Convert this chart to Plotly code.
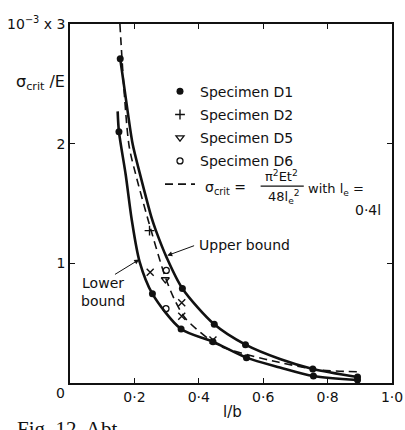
import plotly.graph_objects as go

# ---- data (l/b, sigma_crit/E x 1e-3) ----
upper_x = [0.156, 0.179, 0.195, 0.217, 0.254, 0.266, 0.300, 0.349, 0.448, 0.545, 0.652, 0.754, 0.893]
upper_y = [2.71, 2.27, 1.99, 1.75, 1.375, 1.28, 1.05, 0.79, 0.49, 0.32, 0.20, 0.117, 0.05]

lower_x = [0.148, 0.152, 0.173, 0.192, 0.216, 0.256, 0.345, 0.444, 0.548, 0.652, 0.756, 0.893]
lower_y = [2.27, 2.10, 1.74, 1.36, 1.015, 0.745, 0.451, 0.345, 0.212, 0.13, 0.058, 0.025]

theory_x = [0.155, 0.183, 0.204, 0.2415, 0.294, 0.324, 0.359, 0.435, 0.474, 0.560, 0.649, 0.769, 0.897]
theory_y = [3.00, 1.99, 1.744, 1.373, 0.90, 0.70, 0.538, 0.359, 0.299, 0.23, 0.173, 0.111, 0.093]

d1_x = [0.156, 0.349, 0.448, 0.545, 0.754, 0.893, 0.152, 0.256, 0.345, 0.444, 0.548, 0.756, 0.893]
d1_y = [2.71, 0.79, 0.49, 0.32, 0.117, 0.05, 2.10, 0.745, 0.451, 0.345, 0.212, 0.058, 0.025]

d2_x = [0.247, 0.249, 0.347, 0.347, 0.444]
d2_y = [1.273, 0.926, 0.670, 0.558, 0.36]

d5_x = [0.296]
d5_y = [0.865]

d6_x = [0.299, 0.298]
d6_y = [0.941, 0.621]

x_ticks = [0.2, 0.4, 0.6, 0.8, 1.0]
x_ticktext = ["0·2", "0·4", "0·6", "0·8", "1·0"]
y_ticks = [1, 2, 3]
y_ticktext = ["1", "2", "10<sup>−3</sup> x 3"]
Y_MAX = 3.0

FONT = "DejaVu Sans"
BLACK = "#111111"

fig = go.Figure()

# curves
fig.add_trace(go.Scatter(x=upper_x, y=upper_y, mode="lines", showlegend=False,
                         line=dict(color=BLACK, width=2.6, shape="spline", smoothing=0.8)))
fig.add_trace(go.Scatter(x=lower_x, y=lower_y, mode="lines", showlegend=False,
                         line=dict(color=BLACK, width=2.6, shape="spline", smoothing=0.8)))

# specimens
fig.add_trace(go.Scatter(x=d1_x, y=d1_y, mode="markers", name="Specimen D1",
                         legendgroup="a",
                         marker=dict(symbol="circle", size=7, color=BLACK)))
fig.add_trace(go.Scatter(x=d2_x, y=d2_y, mode="markers", name="Specimen D2",
                         legendgroup="b",
                         marker=dict(symbol=["cross-thin", "x-thin", "x-thin", "x-thin", "x-thin"],
                                     size=7, color=BLACK, line=dict(color=BLACK, width=1.4))))
fig.add_trace(go.Scatter(x=d5_x, y=d5_y, mode="markers", name="Specimen D5",
                         legendgroup="c",
                         marker=dict(symbol="triangle-down-open", size=7, color=BLACK,
                                     line=dict(color=BLACK, width=1.3))))
fig.add_trace(go.Scatter(x=d6_x, y=d6_y, mode="markers", name="Specimen D6",
                         legendgroup="d",
                         marker=dict(symbol="circle-open", size=6, color=BLACK,
                                     line=dict(color=BLACK, width=1.3))))
# theoretical curve
fig.add_trace(go.Scatter(x=theory_x, y=theory_y, mode="lines", name=" ",
                         legendgroup="e",
                         line=dict(color=BLACK, width=1.6, dash="8px,5px", shape="spline", smoothing=0.8)))

ann = []
def txt(x, y, s, xanchor="center", yanchor="middle", size=14, xref="x", yref="y", family=FONT):
    ann.append(dict(x=x, y=y, xref=xref, yref=yref, text=s, showarrow=False,
                    xanchor=xanchor, yanchor=yanchor,
                    font=dict(family=family, size=size, color=BLACK)))

# formula in legend
txt(0.413, 1.632, "σ<sub>crit</sub> =", xanchor="left")
txt(0.658, 1.728, "π<sup>2</sup>Et<sup>2</sup>", size=13)
txt(0.665, 1.553, "48l<sub>e</sub><sup>2</sup>", size=13)
txt(0.733, 1.616, "with l<sub>e</sub> =", xanchor="left", size=13)
txt(0.924, 1.443, "0·4l")

# bounds labels
txt(0.395, 1.153, "Upper bound", xanchor="left")
txt(0.028, 0.76, "Lower<br>bound", xanchor="left")
ann.append(dict(x=0.302, y=1.065, ax=0.39, ay=1.152, xref="x", yref="y", axref="x", ayref="y",
                text="", showarrow=True, arrowhead=2, arrowsize=1, arrowwidth=1, arrowcolor=BLACK,
                standoff=0))
ann.append(dict(x=0.215, y=1.032, ax=0.135, ay=0.90, xref="x", yref="y", axref="x", ayref="y",
                text="", showarrow=True, arrowhead=2, arrowsize=1, arrowwidth=1, arrowcolor=BLACK,
                standoff=0))

# axis labels (outside the plotting area -> paper coordinates)
txt(-0.093, 0.838, "σ<sub>crit</sub> /E", size=16, xref="paper", yref="paper")
txt(0.506, -0.241 / Y_MAX, "l/b", size=15, xref="paper", yref="paper")
txt(-0.029, -0.081 / Y_MAX, "0", size=14, xref="paper", yref="paper")

# cropped caption
txt((15 - 70) / 322, -0.088, "Fig. 12  Abt", xanchor="left", yanchor="top", size=21,
    xref="paper", yref="paper", family="Liberation Serif")

fig.update_layout(
    width=405, height=430,
    margin=dict(l=70, r=13, t=24, b=47),
    paper_bgcolor="white", plot_bgcolor="white",
    font=dict(family=FONT, size=14, color=BLACK),
    showlegend=True,
    legend=dict(x=0.2795, y=0.856, xanchor="left", yanchor="top",
                bgcolor="rgba(0,0,0,0)", font=dict(family=FONT, size=14, color=BLACK),
                traceorder="grouped", tracegroupgap=2),
    annotations=ann,
    shapes=[dict(type="line", xref="x", yref="y", x0=0.592, x1=0.726, y0=1.645, y1=1.645,
                 line=dict(color=BLACK, width=1.2))],
)
fig.update_xaxes(range=[0, 1], showgrid=False, zeroline=False, showline=True,
                 linecolor=BLACK, linewidth=1.5, mirror="ticks", ticks="inside",
                 ticklen=5, tickcolor=BLACK, tickwidth=1.2, automargin=False,
                 tickvals=x_ticks, ticktext=x_ticktext, tickfont=dict(size=14))
fig.update_yaxes(range=[0, Y_MAX], showgrid=False, zeroline=False, showline=True,
                 linecolor=BLACK, linewidth=1.5, mirror="ticks", ticks="inside",
                 ticklen=5, tickcolor=BLACK, tickwidth=1.2, automargin=False,
                 tickvals=y_ticks, ticktext=y_ticktext, tickfont=dict(size=14))

fig.write_html("out.html", config={"displayModeBar": False},
               post_script="document.body.style.margin='0px';document.body.style.overflow='hidden';")
